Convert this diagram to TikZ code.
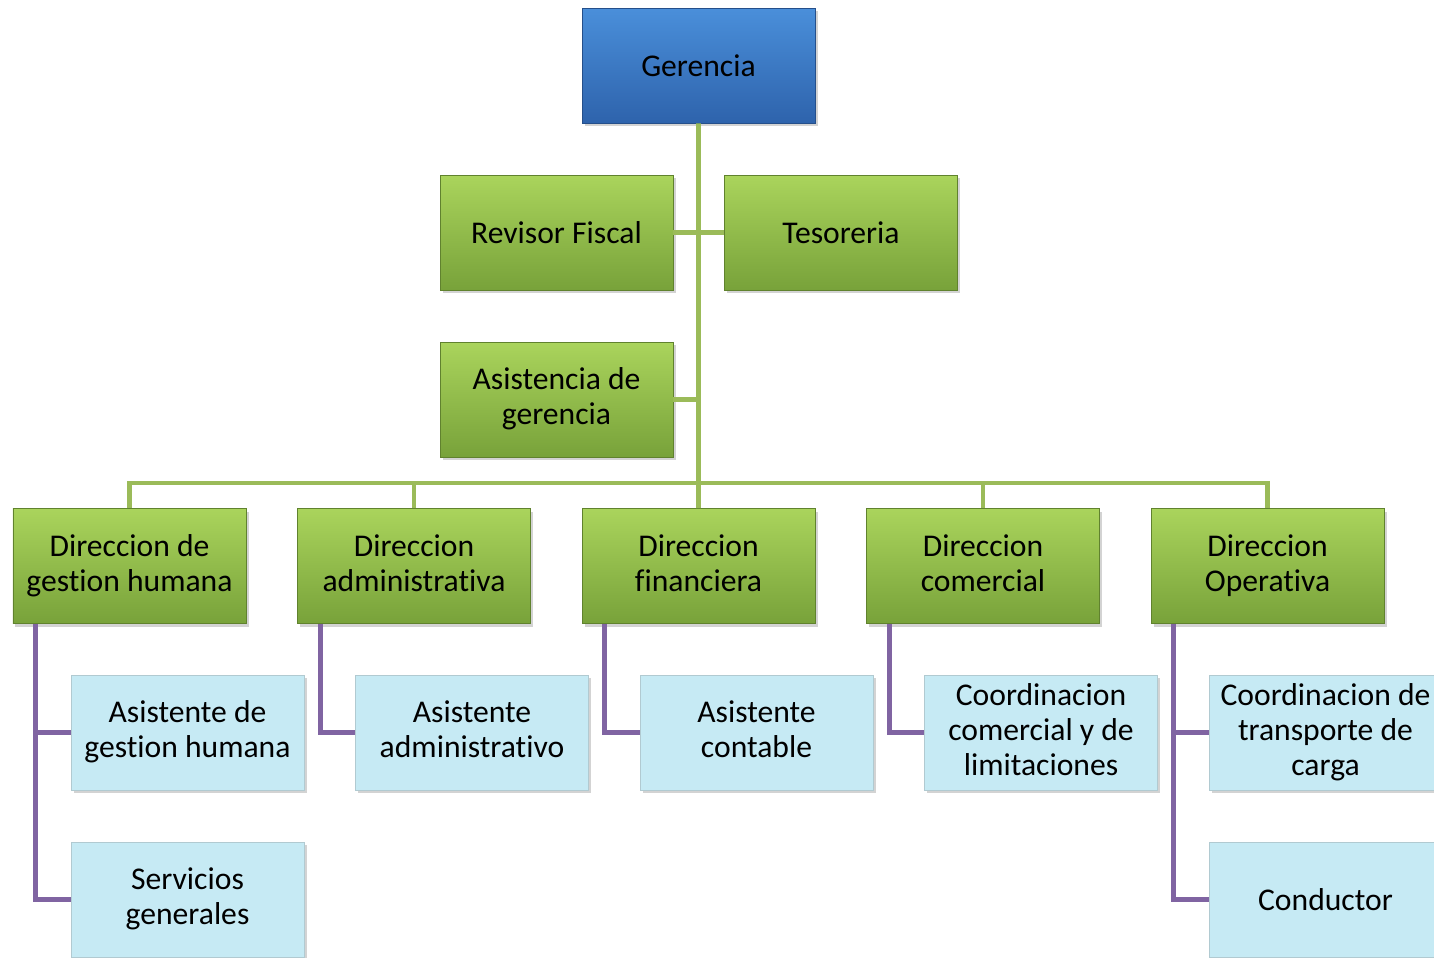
\documentclass[tikz,border=0pt]{standalone}
\usepackage{fontspec}
\setmainfont{Carlito}[Ligatures=NoCommon]
\usetikzlibrary{shadows,calc}

\definecolor{lineaverde}{HTML}{9BBB59}
\definecolor{lineamorada}{HTML}{8064A2}
\definecolor{verdearriba}{HTML}{AAD45C}
\definecolor{verdeabajo}{HTML}{78A23A}
\definecolor{azularriba}{HTML}{4A8FDA}
\definecolor{azulabajo}{HTML}{2E63AC}
\definecolor{celeste}{HTML}{C6EAF4}

\newcommand\puntal{\rule[-3.65pt]{0pt}{19.8pt}}

\begin{document}
\begin{tikzpicture}[node distance=5.69cm,
    caja/.style={rectangle, minimum width=4.66cm, minimum height=2.3cm, inner sep=0pt, align=center,
      font=\fontsize{18}{19.8}\selectfont,
      execute at begin node={\puntal}, execute at end node={\puntal},
      drop shadow={shadow xshift=0.05cm, shadow yshift=-0.06cm, opacity=0.35}},
    jefe/.style={caja, draw=azulabajo!80!black, top color=azularriba, bottom color=azulabajo},
    area/.style={caja, draw=verdeabajo!80!black, top color=verdearriba, bottom color=verdeabajo},
    cargo/.style={caja, draw=celeste!70!gray, fill=celeste},
    verde/.style={draw=lineaverde, line width=2.8pt},
    morada/.style={draw=lineamorada, line width=2.8pt}]
    \clip (0,0) rectangle (28.68,-19.16);

    % Nodes
    \node (ger) [jefe] at (13.97,-1.31) {Gerencia};
    \node (rev) [area] at (11.13,-4.65) {Revisor Fiscal};
    \node (tes) [area, right of=rev] {Tesoreria};
    \node (asis) [area] at (11.13,-7.99) {Asistencia de\\gerencia};

    \node (dgh) [area] at (2.59,-11.32) {Direccion de\\gestion humana};
    \node (dadm) [area, right of=dgh] {Direccion\\administrativa};
    \node (dfin) [area, right of=dadm] {Direccion\\financiera};
    \node (dcom) [area, right of=dfin] {Direccion\\comercial};
    \node (dop) [area, right of=dcom] {Direccion\\Operativa};

    \node (agh) [cargo] at (3.75,-14.65) {Asistente de\\gestion humana};
    \node (aadm) [cargo, right of=agh] {Asistente\\administrativo};
    \node (acon) [cargo, right of=aadm] {Asistente\\contable};
    \node (ccom) [cargo, right of=acon] {Coordinacion\\comercial y de\\limitaciones};
    \node (ctra) [cargo, right of=ccom] {Coordinacion de\\transporte de\\carga};
    \node (serv) [cargo] at (3.75,-17.99) {Servicios\\generales};
    \node (cond) [cargo] at (26.51,-17.99) {Conductor};

    \coordinate (barra) at (13.97,-9.66);

    % Green lines
    \draw[verde] (ger) -- (dfin);
    \draw[verde] (rev) -- (tes);
    \draw[verde] (asis.east) -- (asis.east -| ger.south);
    \draw[verde] (dgh.north) |- (barra) -| (dop.north);
    \draw[verde] (dadm.north) -- (dadm.north |- barra);
    \draw[verde] (dcom.north) -- (dcom.north |- barra);

    % Purple lines
    \draw[morada] ($(dgh.south west)+(0.46,0)$) |- (serv);
    \draw[morada] ($(dgh.south west)+(0.46,0)$) |- (agh);
    \draw[morada] ($(dadm.south west)+(0.46,0)$) |- (aadm);
    \draw[morada] ($(dfin.south west)+(0.46,0)$) |- (acon);
    \draw[morada] ($(dcom.south west)+(0.46,0)$) |- (ccom);
    \draw[morada] ($(dop.south west)+(0.46,0)$) |- (cond);
    \draw[morada] ($(dop.south west)+(0.46,0)$) |- (ctra);

\end{tikzpicture}
\end{document}
